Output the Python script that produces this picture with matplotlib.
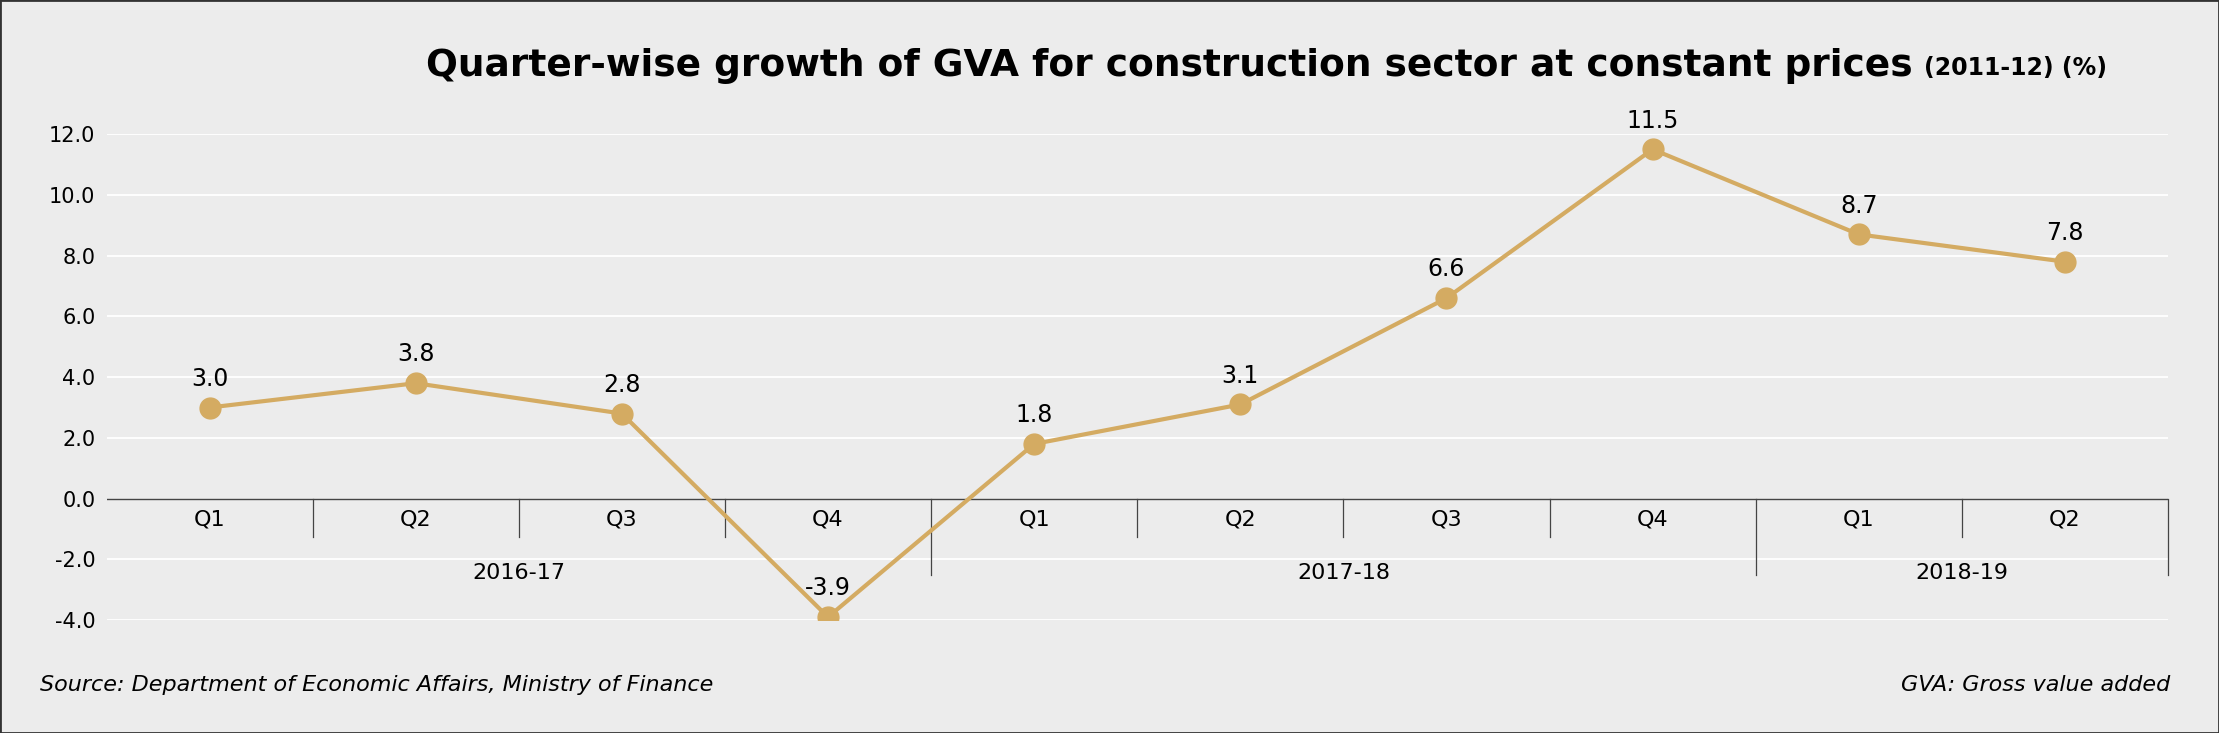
import matplotlib
matplotlib.use("Agg")
import matplotlib.pyplot as plt
from matplotlib.patches import Rectangle

quarters = ["Q1", "Q2", "Q3", "Q4", "Q1", "Q2", "Q3", "Q4", "Q1", "Q2"]
values = [3.0, 3.8, 2.8, -3.9, 1.8, 3.1, 6.6, 11.5, 8.7, 7.8]
years = ["2016-17", "2017-18", "2018-19"]
year_spans = [(0, 3), (4, 7), (8, 9)]
yticks = [-4.0, -2.0, 0.0, 2.0, 4.0, 6.0, 8.0, 10.0, 12.0]

bg = "#ececec"
gold = "#d4ab62"

fig = plt.figure(figsize=(22.19, 7.33), dpi=100, facecolor=bg)
fig.patches.append(Rectangle((0, 0), 1, 1, transform=fig.transFigure, fill=False,
                             edgecolor="#333333", linewidth=2))
ax = fig.add_axes([0.048, 0.154, 0.929, 0.663])
ax.set_facecolor(bg)
x = list(range(len(values)))
ax.set_xlim(-0.5, len(values) - 0.5)
ax.set_ylim(-4, 12)
ax.set_yticks(yticks)
ax.set_yticklabels([f"{v:.1f}" for v in yticks], fontsize=15)
ax.tick_params(axis="y", length=0, pad=8)
ax.set_xticks([])
for s in ax.spines.values():
    s.set_visible(False)
for v in yticks:
    if v != 0:
        ax.axhline(v, color="white", linewidth=1.3, zorder=0)
ax.axhline(0, color="#444444", linewidth=1, zorder=1)

ax.plot(x, values, color=gold, linewidth=3, marker="o", markersize=15, zorder=3)
for xi, v in zip(x, values):
    ax.text(xi, v + 0.55, f"{v:.1f}", ha="center", va="bottom", fontsize=17, zorder=4)

# category axis
for xi, q in zip(x, quarters):
    ax.text(xi, -0.68, q, ha="center", va="center", fontsize=16)
for i in range(len(values) - 1):
    b = i + 0.5
    long = any(b == s[1] + 0.5 for s in year_spans)
    ax.plot([b, b], [0, -2.5 if long else -1.26], color="#444444", linewidth=0.9, clip_on=False)
ax.plot([9.5, 9.5], [0, -2.5], color="#444444", linewidth=0.9, clip_on=False)
for y, (a, b) in zip(years, year_spans):
    ax.text((a + b) / 2, -2.45, y, ha="center", va="center", fontsize=16)

fig.text(0.862, 0.91, "Quarter-wise growth of GVA for construction sector at constant prices",
         ha="right", va="center", fontsize=27, fontweight="bold",
         family=["Liberation Sans Narrow", "DejaVu Sans"])
fig.text(0.867, 0.907, "(2011-12) (%)", ha="left", va="center", fontsize=17, fontweight="bold",
         family=["Liberation Sans Narrow", "DejaVu Sans"])
fig.text(0.018, 0.065, "Source: Department of Economic Affairs, Ministry of Finance",
         ha="left", va="center", fontsize=16, style="italic")
fig.text(0.978, 0.065, "GVA: Gross value added", ha="right", va="center", fontsize=16, style="italic")

fig.savefig("out.png", dpi=100, facecolor=bg)
